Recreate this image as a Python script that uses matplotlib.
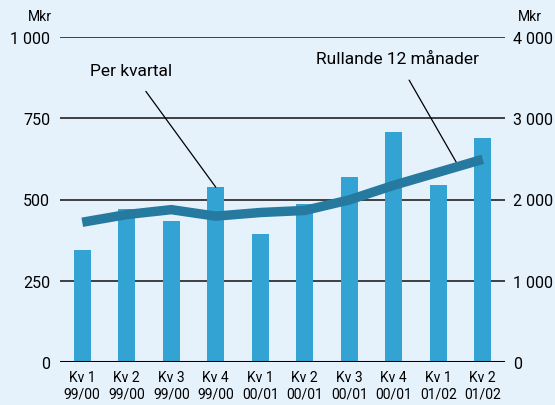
import matplotlib
matplotlib.use("Agg")
import matplotlib.pyplot as plt

categories = ["Kv 1\n99/00", "Kv 2\n99/00", "Kv 3\n99/00", "Kv 4\n99/00", "Kv 1\n00/01",
              "Kv 2\n00/01", "Kv 3\n00/01", "Kv 4\n00/01", "Kv 1\n01/02", "Kv 2\n01/02"]
per_kvartal = [345, 471, 434, 538, 394, 486, 569, 708, 545, 689]
rullande_12 = [1720, 1815, 1875, 1795, 1840, 1865, 1995, 2175, 2335, 2495]
left_ticks = [0, 250, 500, 750, 1000]
left_labels = ["0", "250", "500", "750", "1 000"]
right_ticks = [0, 1000, 2000, 3000, 4000]
right_labels = ["0", "1 000", "2 000", "3 000", "4 000"]

plt.rcParams["font.family"] = ["Roboto", "DejaVu Sans"]

BG = "#e5f1fb"
BAR = "#33a3d3"
LINE = "#26799f"

fig = plt.figure(figsize=(5.55, 4.06), dpi=100, facecolor=BG)
ax = fig.add_axes([60/555, 43/406, 445/555, 325/406])
ax.set_facecolor(BG)
ax2 = ax.twinx()

x = list(range(len(categories)))
ax.set_xlim(-0.5, len(categories) - 0.5)
ax.set_ylim(0, 1000)
ax2.set_ylim(0, 4000)

for t in left_ticks[1:]:
    ax.axhline(t, color="#222222", lw=1.2, zorder=0)
ax.bar(x, per_kvartal, width=0.38, color=BAR, zorder=2)
ax.axhline(0, color="black", lw=2.2, zorder=3)
ax2.plot(x, rullande_12, color=LINE, lw=6.8, solid_joinstyle="miter",
         solid_capstyle="butt", zorder=4)

for a in (ax, ax2):
    for s in a.spines.values():
        s.set_visible(False)

ax.set_yticks(left_ticks)
ax.set_yticklabels(left_labels, fontsize=11.5)
ax2.set_yticks(right_ticks)
ax2.set_yticklabels(right_labels, fontsize=11.5)
ax.tick_params(axis="y", length=0, pad=7)
ax2.tick_params(axis="y", length=0, pad=6)
ax.set_xticks(x)
ax.set_xticklabels(categories, fontsize=10, linespacing=1.2)
ax.tick_params(axis="x", length=0, pad=6)

fig.text(40/555, 1 - 17/406, "Mkr", ha="center", va="center", fontsize=10)
fig.text(530/555, 1 - 17/406, "Mkr", ha="center", va="center", fontsize=10)

# annotations
ax.annotate("Per kvartal", xy=(3, 538), xycoords="data",
            xytext=(131/555, 1 - 72/406), textcoords="figure fraction",
            ha="center", va="center", fontsize=12.5,
            arrowprops=dict(arrowstyle="-", color="black", lw=0.9,
                            shrinkA=9, shrinkB=0))
ax2.annotate("Rullande 12 månader", xy=(456.7/555, 1 - 164/406), xycoords="figure fraction",
             xytext=(397/555, 1 - 60/406), textcoords="figure fraction",
             ha="center", va="center", fontsize=12.5,
             arrowprops=dict(arrowstyle="-", color="black", lw=0.9,
                             shrinkA=9, shrinkB=0))

fig.savefig("out.png", dpi=100, facecolor=BG)
